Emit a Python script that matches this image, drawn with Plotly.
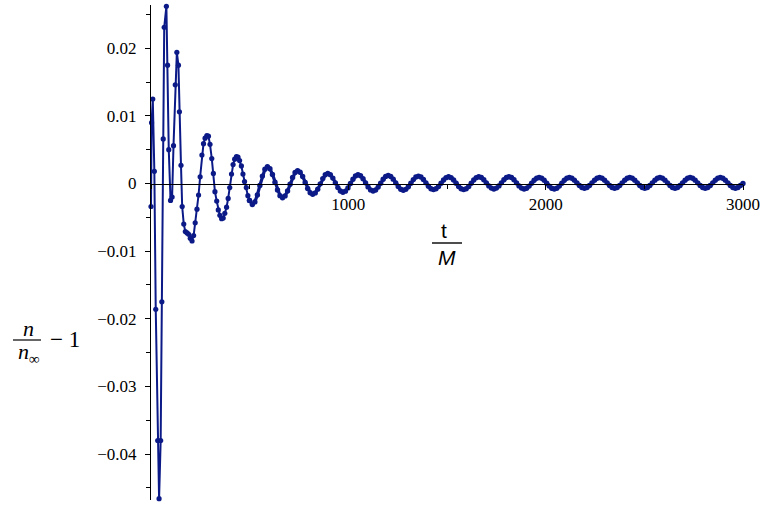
import plotly.graph_objects as go

# ---------------- data ----------------
t_early = [0, 3, 9, 17, 24, 34, 41, 49, 55, 62, 67, 78, 84, 90, 99, 107, 114, 123,
           131, 139, 144, 152, 158, 166, 174, 183, 191, 199, 208, 216, 224, 233,
           241, 249, 258, 266, 274, 283, 291, 299, 308, 316, 324, 333, 341, 349,
           358, 366, 374, 383, 391, 399, 408, 416, 424, 433, 441, 449, 458, 466,
           474, 483, 491, 499]
v_early = [-0.0034, 0.0090, 0.0125, 0.0018, -0.0186, -0.0380, -0.0466, -0.0380,
           -0.0175, 0.0066, 0.0231, 0.0262, 0.0175, 0.0050, -0.0025, -0.0020,
           0.0056, 0.0146, 0.0194, 0.0175, 0.0106, 0.0027, -0.0034, -0.0060,
           -0.0071, -0.0073, -0.0075, -0.0081, -0.0085, -0.0077, -0.0058, -0.0038,
           -0.0017, 0.0010, 0.0042, 0.0059, 0.0067, 0.0071, 0.0070, 0.0058,
           0.0037, 0.0015, -0.0012, -0.0026, -0.0039, -0.0047, -0.0052, -0.0051,
           -0.0044, -0.0035, -0.0022, -0.0006, 0.0014, 0.0028, 0.0036, 0.0040,
           0.0039, 0.0034, 0.0026, 0.0014, 0.0003, -0.0006, -0.0018, -0.0025]

# later samples, evenly spaced in t
T_START = 513.5
T_STEP = 12.75
v_late = [
    -0.00310, -0.00272, -0.00170, -0.00030, 0.00110, 0.00212,
    0.00250, 0.00219, 0.00135, 0.00020, -0.00095, -0.00179,
    -0.00210, -0.00183, -0.00110, -0.00010, 0.00090, 0.00163,
    0.00190, 0.00167, 0.00103, 0.00015, -0.00073, -0.00137,
    -0.00160, -0.00139, -0.00083, -0.00005, 0.00073, 0.00129,
    0.00150, 0.00131, 0.00080, 0.00010, -0.00060, -0.00111,
    -0.00130, -0.00113, -0.00065, 0.00000, 0.00065, 0.00113,
    0.00130, 0.00114, 0.00070, 0.00010, -0.00050, -0.00094,
    -0.00110, -0.00095, -0.00053, 0.00005, 0.00063, 0.00105,
    0.00120, 0.00105, 0.00065, 0.00010, -0.00045, -0.00085,
    -0.00100, -0.00086, -0.00048, 0.00005, 0.00058, 0.00096,
    0.00110, 0.00097, 0.00060, 0.00010, -0.00040, -0.00077,
    -0.00090, -0.00077, -0.00043, 0.00005, 0.00053, 0.00087,
    0.00100, 0.00087, 0.00053, 0.00005, -0.00043, -0.00077,
    -0.00090, -0.00077, -0.00043, 0.00005, 0.00053, 0.00087,
    0.00100, 0.00088, 0.00055, 0.00010, -0.00035, -0.00068,
    -0.00080, -0.00068, -0.00035, 0.00010, 0.00055, 0.00088,
    0.00100, 0.00088, 0.00055, 0.00010, -0.00035, -0.00068,
    -0.00080, -0.00069, -0.00038, 0.00005, 0.00048, 0.00079,
    0.00090, 0.00079, 0.00048, 0.00005, -0.00038, -0.00069,
    -0.00080, -0.00069, -0.00038, 0.00005, 0.00048, 0.00079,
    0.00090, 0.00079, 0.00050, 0.00010, -0.00030, -0.00059,
    -0.00070, -0.00059, -0.00030, 0.00010, 0.00050, 0.00079,
    0.00090, 0.00079, 0.00050, 0.00010, -0.00030, -0.00059,
    -0.00070, -0.00059, -0.00030, 0.00010, 0.00050, 0.00079,
    0.00090, 0.00079, 0.00050, 0.00010, -0.00030, -0.00059,
    -0.00070, -0.00059, -0.00030, 0.00010, 0.00050, 0.00079,
    0.00090, 0.00079, 0.00050, 0.00010, -0.00030, -0.00059,
    -0.00070, -0.00059, -0.00030, 0.00010, 0.00050, 0.00079,
    0.00090, 0.00079, 0.00050, 0.00010, -0.00030, -0.00059,
    -0.00070, -0.00059, -0.00030, 0.00010, 0.00050, 0.00079,
    0.00090, 0.00079, 0.00050, 0.00010, -0.00030, -0.00059,
    -0.00070, -0.00059, -0.00030, 0.00000,
]

x_tick_vals = [1000, 2000, 3000]
x_tick_text = ["1000", "2000", "3000"]
y_tick_vals = [0.02, 0.01, 0, -0.01, -0.02, -0.03, -0.04]
y_tick_text = ["0.02", "0.01", "0", "\u22120.01", "\u22120.02", "\u22120.03", "\u22120.04"]

# ---------------- figure ----------------
t_late = [T_START + T_STEP * k for k in range(len(v_late))]

W, H = 771, 510
ML, MR, MT, MB = 151, 28, 5, 10
XMIN, XMAX = 0, 3000
YMIN, YMAX = -0.0468, 0.0264
COLOR = "#0b1a87"
SERIF = "Liberation Serif"
SANS = "Liberation Sans"

PW = W - ML - MR
PH = H - MT - MB


def px(xp):
    return (xp - ML) / PW


def py(yp):
    return (H - MB - yp) / PH


fig = go.Figure()
# dense late part: drawn with a slightly heavier line (markers overlap there)
fig.add_trace(go.Scatter(
    x=t_early[-1:] + t_late, y=v_early[-1:] + v_late, mode="lines+markers",
    line=dict(color=COLOR, width=3.2),
    marker=dict(color=COLOR, size=5.4),
    cliponaxis=False, hoverinfo="skip",
))
fig.add_trace(go.Scatter(
    x=t_early, y=v_early, mode="lines+markers",
    line=dict(color=COLOR, width=2),
    marker=dict(color=COLOR, size=5.2),
    cliponaxis=False, hoverinfo="skip",
))

fig.update_layout(
    width=W, height=H,
    margin=dict(l=ML, r=MR, t=MT, b=MB, pad=0),
    paper_bgcolor="white", plot_bgcolor="white",
    showlegend=False,
    font=dict(family=SERIF, color="black"),
    xaxis=dict(
        range=[XMIN, XMAX], anchor="free",
        position=(0 - YMIN) / (YMAX - YMIN),
        showline=True, linecolor="black", linewidth=1,
        showgrid=False, zeroline=False,
        ticks="outside", ticklen=5, tickwidth=1, tickcolor="black",
        tickmode="array", tickvals=x_tick_vals, ticktext=x_tick_text,
        tickfont=dict(family=SERIF, size=17, color="black"),
        minor=dict(ticks="outside", ticklen=4, tickwidth=1, tickcolor="black",
                   tick0=0, dtick=500, showgrid=False),
    ),
    yaxis=dict(
        range=[YMIN, YMAX], anchor="x",
        showline=True, linecolor="black", linewidth=1,
        showgrid=False, zeroline=False,
        ticks="outside", ticklen=5, tickwidth=1, tickcolor="black",
        tickmode="array", tickvals=y_tick_vals, ticktext=y_tick_text,
        tickfont=dict(family=SERIF, size=17, color="black"),
        ticklabelstandoff=5,
        minor=dict(ticks="outside", ticklen=4, tickwidth=1, tickcolor="black",
                   tick0=0, dtick=0.005, showgrid=False),
    ),
)

ann = [
    # x label  t / M
    dict(text="t", x=px(444), y=py(230), font=dict(family=SANS, size=21, color="black")),
    dict(text="<i>M</i>", x=px(447), y=py(257), font=dict(family=SANS, size=21, color="black")),
    # y label  n / n_inf  - 1
    dict(text="<i>n</i>", x=px(28), y=py(328), font=dict(family=SERIF, size=22, color="black")),
    dict(text="<i>n</i><sub>\u221e</sub>", x=px(29), y=py(353), font=dict(family=SERIF, size=22, color="black")),
    dict(text="\u2212 1", x=px(65), y=py(339), font=dict(family=SERIF, size=23, color="black")),
]
for a in ann:
    a.update(xref="paper", yref="paper", xanchor="center", yanchor="middle", showarrow=False)
fig.update_layout(annotations=ann)

fig.add_shape(type="line", xref="paper", yref="paper",
              x0=px(432), x1=px(462), y0=py(243), y1=py(243),
              line=dict(color="black", width=1.4))
fig.add_shape(type="line", xref="paper", yref="paper",
              x0=px(13), x1=px(41), y0=py(340), y1=py(340),
              line=dict(color="black", width=1.2))

fig.write_html(
    "out.html",
    config={"displayModeBar": False, "staticPlot": True},
    post_script="document.body.style.margin='0';document.body.style.overflow='hidden';",
)
